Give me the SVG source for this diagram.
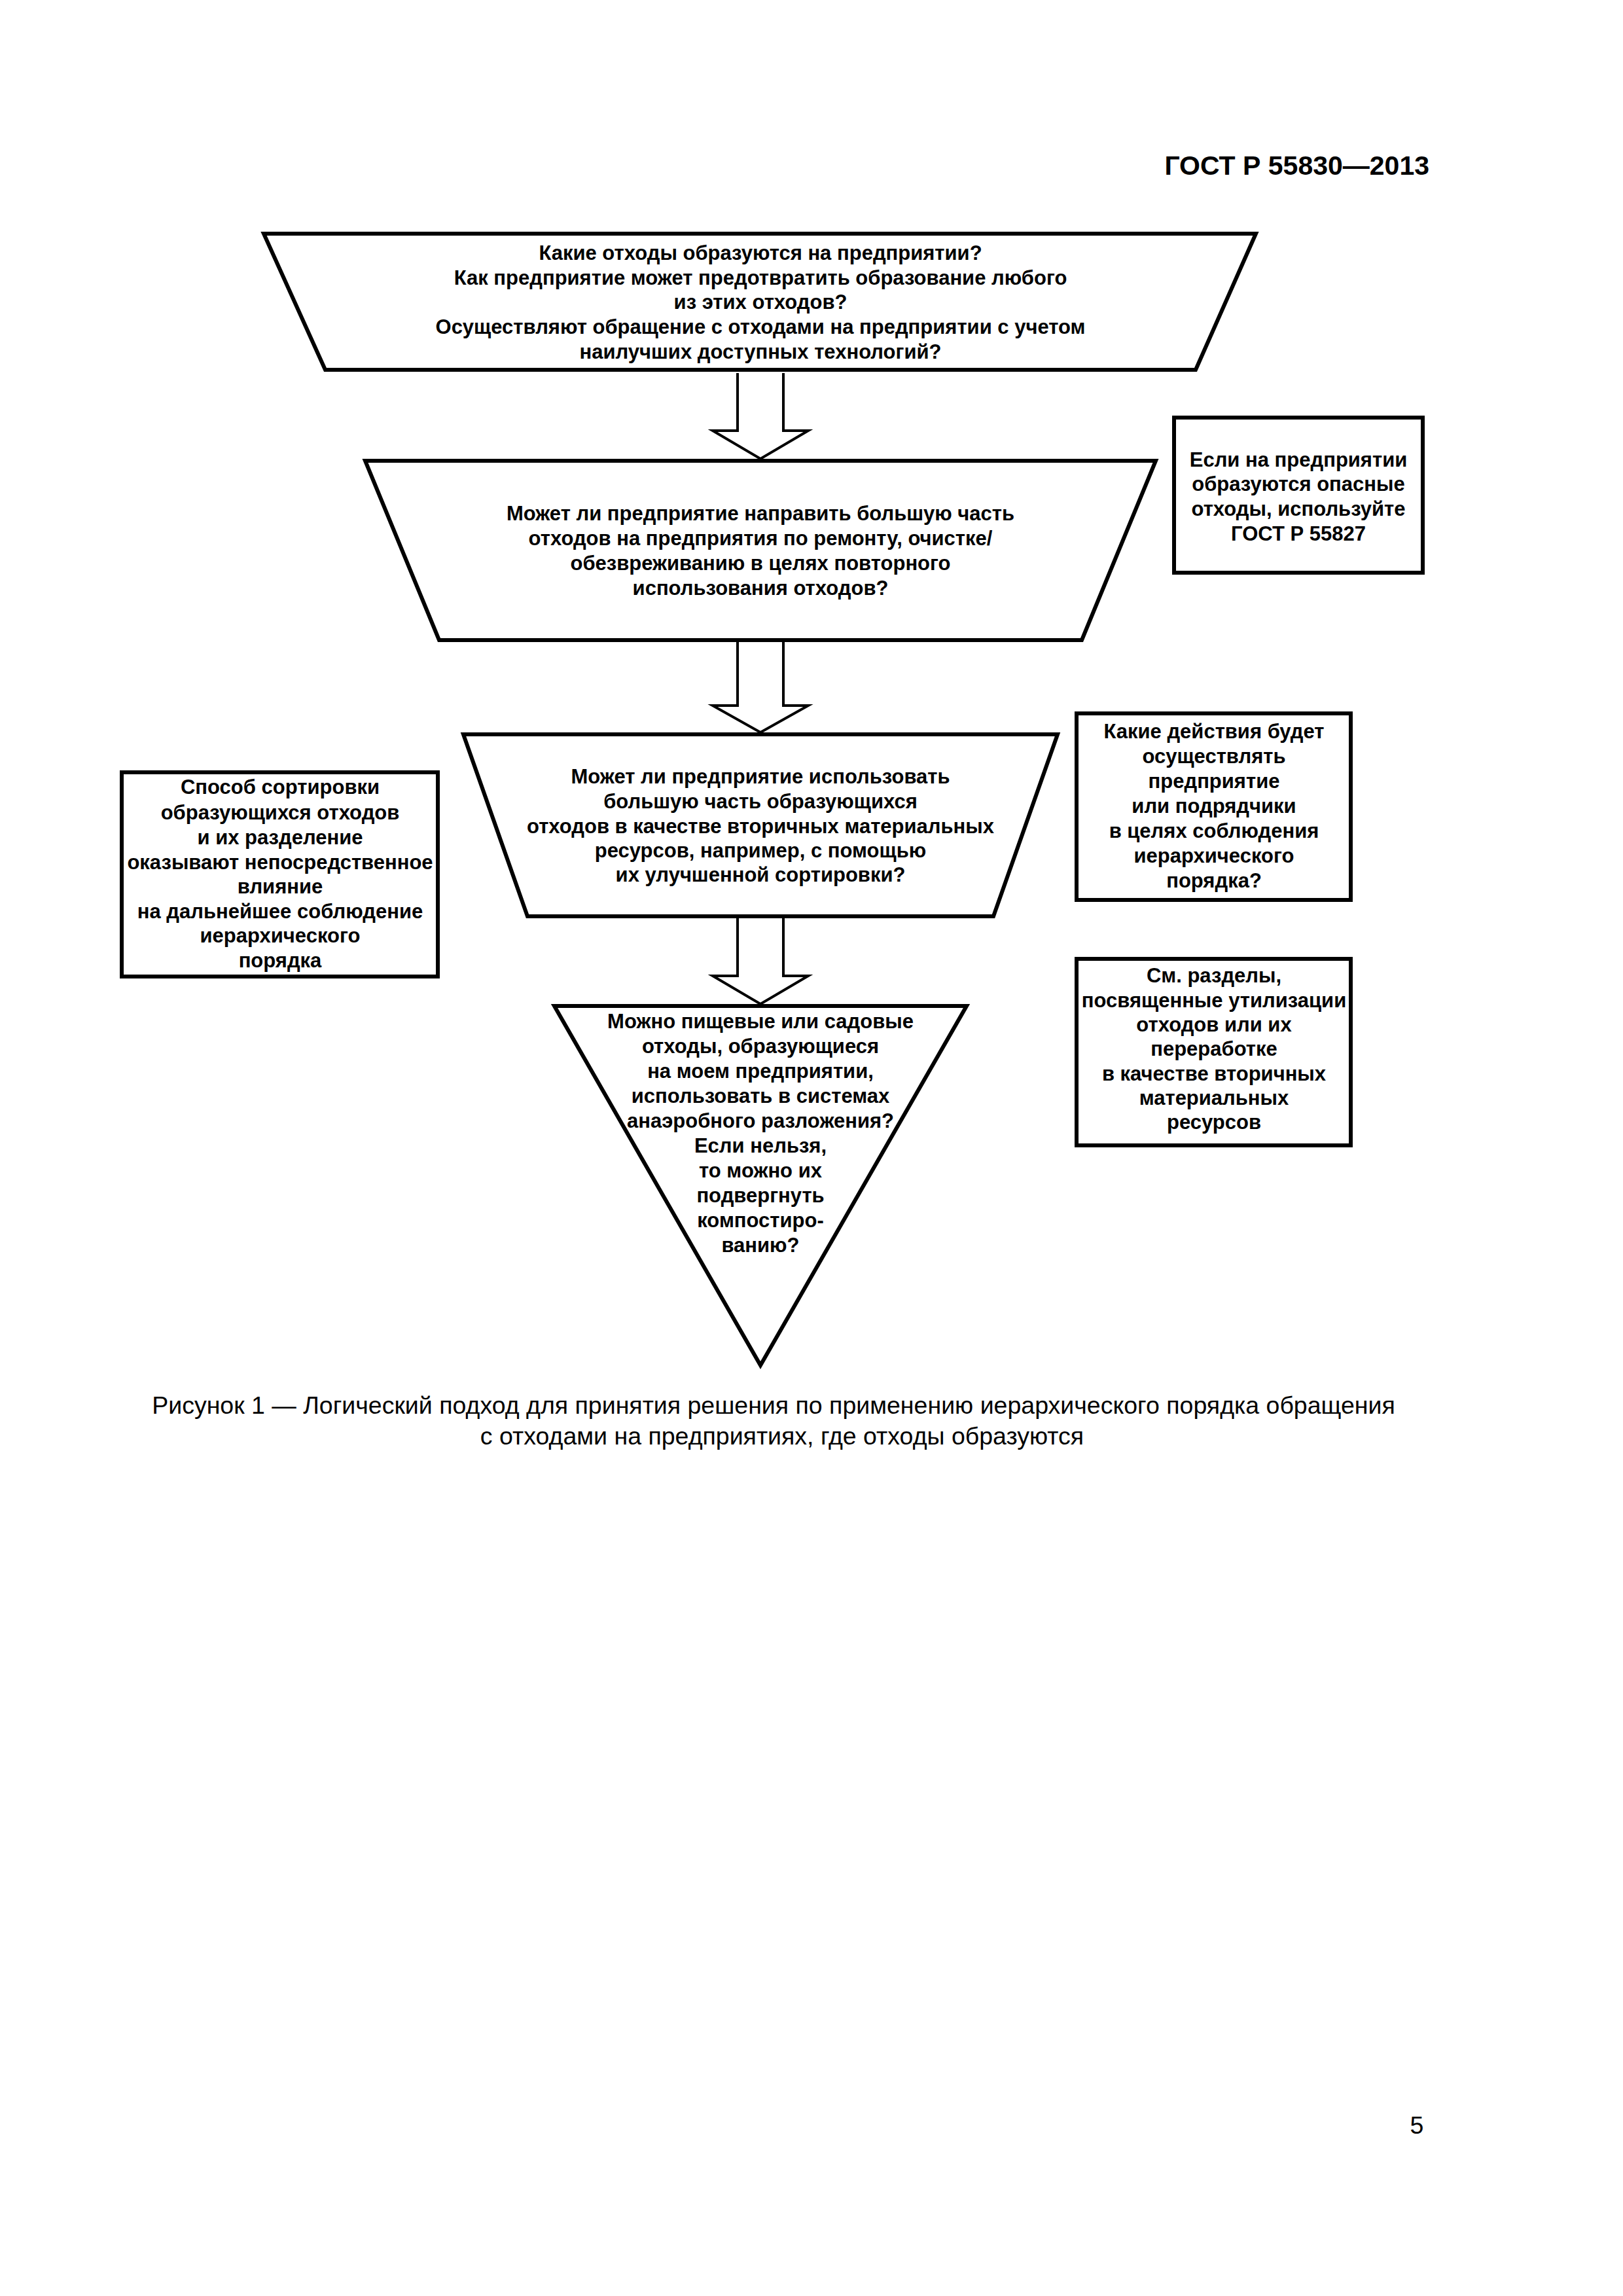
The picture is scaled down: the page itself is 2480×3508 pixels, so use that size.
<svg xmlns="http://www.w3.org/2000/svg" width="2480" height="3508" viewBox="0 0 2480 3508">
<style>
.shape{fill:#fff;stroke:#000;stroke-width:6;stroke-linejoin:miter}
.arrow{fill:#fff;stroke:#000;stroke-width:4;stroke-linejoin:miter}
.t{font-family:"Liberation Sans",Arial,sans-serif;font-weight:bold;font-size:31px;text-anchor:middle;fill:#000}
.cap{font-family:"Liberation Sans",Arial,sans-serif;font-size:37.5px;text-anchor:middle;fill:#000}
.hdr{font-family:"Liberation Sans",Arial,sans-serif;font-weight:bold;font-size:41px;text-anchor:end;fill:#000}
</style>
<rect width="2480" height="3508" fill="#fff"/>
<text class="hdr" x="2184" y="267">ГОСТ Р 55830—2013</text>

<g id="connectors">
<path class="arrow" d="M1127,570 V658 H1089 L1162,701 L1235,658 H1197 V570"/>
<path class="arrow" d="M1127,981 V1078 H1089 L1162,1119 L1235,1078 H1197 V981"/>
<path class="arrow" d="M1127,1403 V1491 H1089 L1162,1534 L1235,1491 H1197 V1403"/>
</g>

<g id="node1">
<polygon class="shape" points="403,357 1919,357 1827,565 497,565"/>
<text class="t" x="1162" y="397">Какие отходы образуются на предприятии?</text>
<text class="t" x="1162" y="435">Как предприятие может предотвратить образование любого</text>
<text class="t" x="1162" y="472">из этих отходов?</text>
<text class="t" x="1162" y="510">Осуществляют обращение с отходами на предприятии с учетом</text>
<text class="t" x="1162" y="548">наилучших доступных технологий?</text>
</g>

<g id="node2">
<polygon class="shape" points="558,704 1766,704 1653,978 671,978"/>
<text class="t" x="1162" y="795">Может ли предприятие направить большую часть</text>
<text class="t" x="1162" y="833">отходов на предприятия по ремонту, очистке/</text>
<text class="t" x="1162" y="871">обезвреживанию в целях повторного</text>
<text class="t" x="1162" y="909">использования отходов?</text>
</g>

<g id="node3">
<polygon class="shape" points="708,1122 1616,1122 1518,1400 806,1400"/>
<text class="t" x="1162" y="1197">Может ли предприятие использовать</text>
<text class="t" x="1162" y="1235">большую часть образующихся</text>
<text class="t" x="1162" y="1273">отходов в качестве вторичных материальных</text>
<text class="t" x="1162" y="1310">ресурсов, например, с помощью</text>
<text class="t" x="1162" y="1347">их улучшенной сортировки?</text>
</g>

<g id="node4">
<polygon class="shape" points="847,1537 1477,1537 1162,2086"/>
<text class="t" x="1162" y="1571">Можно пищевые или садовые</text>
<text class="t" x="1162" y="1609">отходы, образующиеся</text>
<text class="t" x="1162" y="1647">на моем предприятии,</text>
<text class="t" x="1162" y="1685">использовать в системах</text>
<text class="t" x="1162" y="1723">анаэробного разложения?</text>
<text class="t" x="1162" y="1761">Если нельзя,</text>
<text class="t" x="1162" y="1799">то можно их</text>
<text class="t" x="1162" y="1837">подвергнуть</text>
<text class="t" x="1162" y="1875">компостиро-</text>
<text class="t" x="1162" y="1913">ванию?</text>
</g>

<g id="box-hazardous">
<rect class="shape" x="1794" y="638" width="380" height="237"/>
<text class="t" x="1984" y="713">Если на предприятии</text>
<text class="t" x="1984" y="750">образуются опасные</text>
<text class="t" x="1984" y="788">отходы, используйте</text>
<text class="t" x="1984" y="826">ГОСТ Р 55827</text>
</g>

<g id="box-actions">
<rect class="shape" x="1645" y="1090" width="419" height="285"/>
<text class="t" x="1855" y="1128">Какие действия будет</text>
<text class="t" x="1855" y="1166">осуществлять</text>
<text class="t" x="1855" y="1204">предприятие</text>
<text class="t" x="1855" y="1242">или подрядчики</text>
<text class="t" x="1855" y="1280">в целях соблюдения</text>
<text class="t" x="1855" y="1318">иерархического</text>
<text class="t" x="1855" y="1356">порядка?</text>
</g>

<g id="box-sections">
<rect class="shape" x="1645" y="1465" width="419" height="285"/>
<text class="t" x="1855" y="1501">См. разделы,</text>
<text class="t" x="1855" y="1539">посвященные утилизации</text>
<text class="t" x="1855" y="1576">отходов или их</text>
<text class="t" x="1855" y="1613">переработке</text>
<text class="t" x="1855" y="1651">в качестве вторичных</text>
<text class="t" x="1855" y="1688">материальных</text>
<text class="t" x="1855" y="1725">ресурсов</text>
</g>

<g id="box-sorting">
<rect class="shape" x="186" y="1180" width="483" height="312"/>
<text class="t" x="428" y="1213">Способ сортировки</text>
<text class="t" x="428" y="1252">образующихся отходов</text>
<text class="t" x="428" y="1290">и их разделение</text>
<text class="t" x="428" y="1328">оказывают непосредственное</text>
<text class="t" x="428" y="1365">влияние</text>
<text class="t" x="428" y="1403">на дальнейшее соблюдение</text>
<text class="t" x="428" y="1440">иерархического</text>
<text class="t" x="428" y="1478">порядка</text>
</g>

<text class="cap" x="1182" y="2160">Рисунок 1 — Логический подход для принятия решения по применению иерархического порядка обращения</text>
<text class="cap" x="1195" y="2207">с отходами на предприятиях, где отходы образуются</text>
<text class="cap" x="2165" y="3260">5</text>
</svg>
